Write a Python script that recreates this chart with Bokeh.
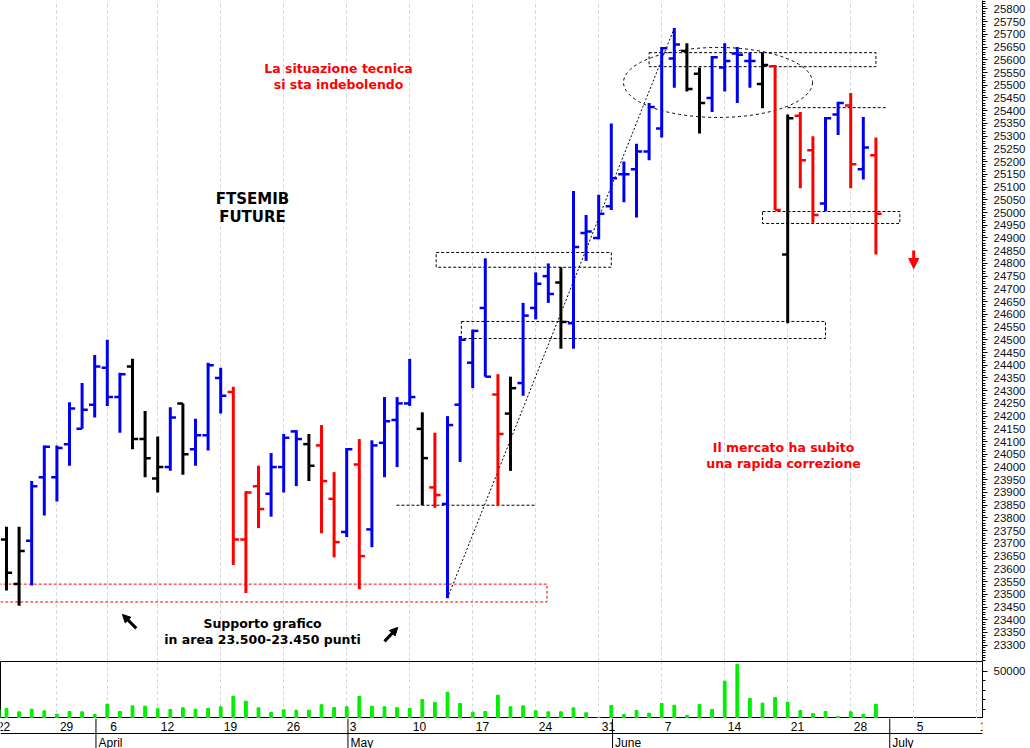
from bokeh.plotting import figure
from bokeh.layouts import column
from bokeh.models import Range1d, FixedTicker, Grid, Span, Arrow, NormalHead, ColumnDataSource
from bokeh.core.properties import value
from bokeh.embed import file_html
from bokeh.resources import INLINE

# ---------------- data (trading-day index 0 = 22 March) ----------------
opens = [23900, 23715, 23540, 23710, 23960, 23960, 24090, 24150, 24245, 24390,
         24275, 24395, 24110, 23955, 24000, 24250, 24070, 24125, 24350, 24295,
         23715, 23925, 23895, 24000, 24140, 24090, 24085, 23875, 23745, 24010,
         23755, 24095, 24185, 24250, 24150, 23920, 23855, 24245, 24410, 24625,
         24285, 24210, 24330, 24625, 24750, 24725, 24565, 24920, 24900, 25025,
         25150, 25170, 25240, 25330, 25605, 25635, 25545, 25450, 25570, 25625,
         25595, 25505, 25575, 24835, 25380, 25245, 25035, 25385, 25420, 25170,
         25225]
highs = [23950, 23765, 23765, 23945, 24085, 24085, 24255, 24330, 24440, 24500,
         24370, 24425, 24220, 24120, 24235, 24250, 24190, 24410, 24390, 24315,
         23905, 24005, 24055, 24130, 24145, 24130, 24165, 23980, 24075, 24110,
         24105, 24275, 24275, 24425, 24215, 24135, 24200, 24515, 24540, 24820,
         24365, 24355, 24645, 24765, 24800, 24785, 25085, 24990, 25070, 25350,
         25200, 25270, 25430, 25650, 25725, 25665, 25570, 25615, 25665, 25650,
         25630, 25630, 25580, 25385, 25395, 25300, 25375, 25435, 25470, 25375,
         25295]
lows = [23700, 23515, 23455, 23535, 23810, 23865, 24005, 24150, 24195, 24240,
        24135, 24070, 23960, 23900, 23985, 23970, 24005, 24065, 24210, 23615,
        23505, 23760, 23805, 23900, 23925, 23945, 23740, 23645, 23725, 23520,
        23685, 23960, 24000, 24240, 23850, 23840, 23485, 24020, 24310, 24355,
        23850, 23985, 24280, 24580, 24645, 24465, 24465, 24810, 24895, 25010,
        25040, 24980, 25205, 25295, 25490, 25475, 25310, 25395, 25475, 25430,
        25490, 25410, 25010, 24565, 25095, 24960, 25005, 25305, 25095, 25130,
        24835]
closes = [23815, 23585, 23670, 23925, 24080, 24075, 24230, 24225, 24395, 24275,
          24365, 24110, 24035, 24000, 24195, 24050, 24125, 24400, 24280, 23715,
          23900, 23835, 24000, 24115, 24110, 24005, 23945, 23705, 24070, 23650,
          24085, 24180, 24250, 24275, 24035, 23890, 24165, 24500, 24535, 24355,
          24130, 24310, 24595, 24720, 24680, 24570, 24865, 24925, 24995, 25135,
          25150, 25240, 25415, 25645, 25660, 25485, 25430, 25610, 25595, 25620,
          25595, 25580, 25010, 25370, 25205, 24990, 25370, 25430, 25190, 25255,
          24995]
trend = ["n", "n", "n", "u", "u", "u", "u", "u", "u", "u",
         "u", "n", "n", "n", "u", "n", "u", "u", "u", "d",
         "d", "d", "u", "u", "u", "n", "d", "d", "u", "d",
         "u", "u", "u", "u", "n", "d", "u", "u", "u", "u",
         "d", "n", "u", "u", "u", "n", "u", "u", "u", "u",
         "u", "u", "u", "u", "u", "n", "n", "u", "u", "u",
         "u", "n", "d", "n", "d", "d", "u", "u", "d", "u",
         "d"]
volumes = [9000, 10640, 7100, 9900, 8200, 4600, 7450, 7100, 4250, 15200,
           7450, 13500, 13100, 10300, 9600, 11400, 9900, 10640, 12450, 23700,
           18400, 11400, 6400, 9250, 8850, 8850, 14600, 11700, 12450, 23400,
           13100, 12450, 11400, 10640, 20200, 17000, 28000, 16000, 6700, 7450,
           24800, 12450, 13500, 8200, 7100, 7100, 11400, 6050, 1100, 13800,
           4250, 8500, 5650, 16000, 14150, 3200, 14900, 9600, 39700, 57450,
           21300, 16300, 22350, 17350, 8500, 5300, 7450, 2100, 7100, 4250,
           15200]

week_ticks = [0, 5, 9, 13, 18, 23, 28, 33, 38, 43, 48, 53, 58, 63, 68, 73, 78]
week_labels = ["22", "29", "6", "12", "19", "26", "3", "10", "17", "24", "31",
               "7", "14", "21", "28", "5", "12"]
month_ticks = [8, 28, 49, 71]
month_labels = ["April", "May", "June", "July"]

price_ticks = list(range(23300, 25801, 50))

# zones drawn on the chart
zone_left = [35.1, 37.1, 52.0, 61.0]
zone_right = [49.0, 66.0, 70.0, 71.9]
zone_bottom = [24785, 24505, 25573, 24957]
zone_top = [24843, 24572, 25628, 25004]
support_zone = (23470, 23540)

# ---------------- styling ----------------
palette = {"u": "#0000f0", "d": "#ff0000", "n": "#000000"}
GRID = "#cfcfe0"
X0, X1 = 0.524, 78.46
N = len(opens)
idx = list(range(N))

src = ColumnDataSource(dict(
    x=idx, o=opens, h=highs, l=lows, c=closes,
    xl=[i - 0.45 for i in idx], xr=[i + 0.45 for i in idx],
    color=[palette[t] for t in trend]))

xr = Range1d(X0, X1)

def base(height, y_range, yaxis):
    f = figure(width=1030, height=height, x_range=xr, y_range=y_range,
               output_backend="svg", toolbar_location=None,
               x_axis_location=None, y_axis_location=yaxis,
               min_border_left=0, min_border_top=0, min_border_bottom=0,
               min_border_right=48, background_fill_color="white",
               border_fill_color="white")
    f.grid.visible = False
    return f

# ---------------- price panel ----------------
p = base(661, Range1d(23236, 25833), "right")
p.outline_line_color = None
p.add_layout(Grid(dimension=0, ticker=FixedTicker(ticks=week_ticks),
                  grid_line_color=GRID, grid_line_dash="3 3"))
ax = p.yaxis[0]
ax.ticker = FixedTicker(ticks=price_ticks, minor_ticks=list(range(23240, 25831, 10)))
ax.major_label_text_font = "Liberation Sans"
ax.major_label_text_font_size = "11.5px"
ax.major_label_text_color = "#111111"
ax.major_tick_out = 5
ax.major_tick_in = 0
ax.minor_tick_out = 3
ax.minor_tick_in = 0
ax.major_label_standoff = 6
ax.axis_line_color = "black"

# zones and guide lines
p.quad(left=[-2], right=[43.9], bottom=[support_zone[0]], top=[support_zone[1]],
       fill_color=None, line_color="#ff0000", line_dash="3 2", line_width=1)
p.quad(left=zone_left, right=zone_right, bottom=zone_bottom, top=zone_top,
       fill_color=None, line_color="black", line_dash="3 2", line_width=1)
p.segment(x0=[31.95, 63], y0=[lows[34], 25412], x1=[43, 70.9], y1=[lows[34], 25412],
          line_color="black", line_dash="3 2", line_width=1)
p.line(x=[36, 54], y=[lows[36], highs[54]], line_color="black", line_dash="2 2", line_width=1)
p.ellipse(x=[57.47], y=[25511], width=[15.0], height=[275], fill_color=None,
          line_color="black", line_dash="3 3", line_width=1)

# OHLC bars
p.segment(x0="x", y0="l", x1="x", y1="h", line_color="color", line_width=3, source=src)
p.segment(x0="xl", y0="o", x1="x", y1="o", line_color="color", line_width=2.5, source=src)
p.segment(x0="x", y0="c", x1="xr", y1="c", line_color="color", line_width=2.5, source=src)

# texts
FONT = value("DejaVu Sans")
p.text(x=[27.35, 27.35], y=[25566, 25503], text=["La situazione tecnica", "si sta indebolendo"],
       text_font=FONT, text_font_style="bold", text_font_size="12.5px", text_color="#ff0000",
       text_align="center", text_baseline="middle")
p.text(x=[20.52, 20.52], y=[25055, 24984], text=["FTSEMIB", "FUTURE"],
       text_font=FONT, text_font_style="bold", text_font_size="15px", text_color="black",
       text_align="center", text_baseline="middle")
p.text(x=[21.32, 21.32], y=[23386, 23323], text=["Supporto grafico", "in area 23.500-23.450 punti"],
       text_font=FONT, text_font_style="bold", text_font_size="12.5px", text_color="black",
       text_align="center", text_baseline="middle")
p.text(x=[62.67, 62.67], y=[24077, 24014], text=["Il mercato ha subito", "una rapida correzione"],
       text_font=FONT, text_font_style="bold", text_font_size="12.5px", text_color="#ff0000",
       text_align="center", text_baseline="middle")

# arrows
p.add_layout(Arrow(end=NormalHead(size=8, fill_color="black", line_color="black"),
                   x_start=11.3, y_start=23366, x_end=10.2, y_end=23421,
                   line_color="black", line_width=3))
p.add_layout(Arrow(end=NormalHead(size=8, fill_color="black", line_color="black"),
                   x_start=31.0, y_start=23315, x_end=32.05, y_end=23370,
                   line_color="black", line_width=3))
p.add_layout(Arrow(end=NormalHead(size=10, fill_color="#ff0000", line_color="#ff0000"),
                   x_start=73.0, y_start=24851, x_end=73.0, y_end=24780,
                   line_color="#ff0000", line_width=3))

# ---------------- volume panel ----------------
v = base(57, Range1d(0, 60600), "right")
v.outline_line_color = "black"
v.add_layout(Grid(dimension=0, ticker=FixedTicker(ticks=week_ticks),
                  grid_line_color=GRID, grid_line_dash="3 3"))
vax = v.yaxis[0]
vax.ticker = FixedTicker(ticks=[50000], minor_ticks=[10000, 20000, 30000, 40000])
vax.major_label_text_font = "Liberation Sans"
vax.major_label_text_font_size = "11.5px"
vax.major_label_text_color = "#111111"
vax.major_tick_out = 5
vax.major_tick_in = 0
vax.minor_tick_out = 3
vax.minor_tick_in = 0
vax.major_label_standoff = 6
vax.axis_line_color = "black"
v.vbar(x=idx, top=volumes, width=0.22, color="#00ee00")

# ---------------- date strip ----------------
s = base(30, Range1d(0, 30), None)
s.outline_line_color = None
s.add_layout(Span(location=15, dimension="width", line_color="black", line_width=1))
s.segment(x0=[m + 0.1 for m in month_ticks], y0=0, x1=[m + 0.1 for m in month_ticks], y1=30,
          line_color="black", line_width=1)
s.text(x=[w + 0.24 for w in week_ticks], y=22.5, text=week_labels,
       text_font=value("Liberation Sans"), text_font_size="12px", text_color="black",
       text_align="left", text_baseline="middle")
s.text(x=[m + 0.3 for m in month_ticks], y=6, text=month_labels,
       text_font=value("Liberation Sans"), text_font_size="12px", text_color="black",
       text_align="left", text_baseline="middle")

layout = column(p, v, s)
open("out.html", "w").write(file_html(layout, INLINE))
